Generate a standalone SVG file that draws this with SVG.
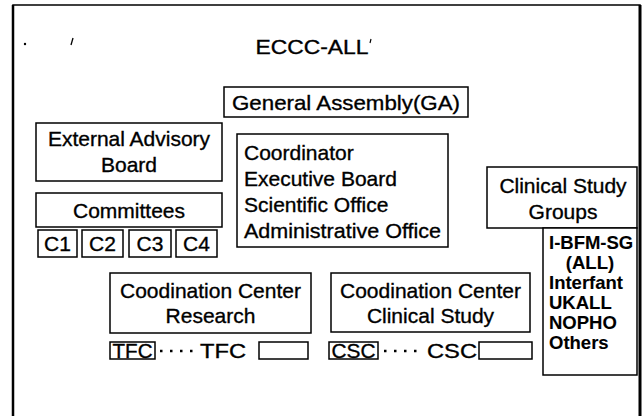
<svg xmlns="http://www.w3.org/2000/svg" width="644" height="416" viewBox="0 0 644 416">
  <style>
    .box { fill: #ffffff; stroke: #000000; stroke-width: 1.5; }
    .t { font-family: "Liberation Sans", Arial, Helvetica, sans-serif; font-size: 21px; fill: #000000; stroke: #000000; stroke-width: 0.35; }
    .c { text-anchor: middle; }
    .b { font-weight: bold; font-size: 18.5px; stroke-width: 0.1; }
    .dots { stroke: #000000; stroke-width: 2.5; stroke-dasharray: 2.5 7.5; fill: none; }
  </style>
  <rect width="644" height="416" fill="#ffffff"/>

  <!-- outer frame (open at the bottom) -->
  <g id="frame">
    <path d="M13,416 V5 H640 V416" fill="none" stroke="#000" stroke-width="1.5"/>
    <line x1="13" y1="5" x2="13" y2="416" stroke="#000" stroke-width="2.5"/>
    <line x1="640" y1="5" x2="640" y2="416" stroke="#000" stroke-width="3"/>
    <circle cx="25" cy="44" r="1.2" fill="#000"/>
    <line x1="71" y1="45" x2="73" y2="38" stroke="#000" stroke-width="1.3"/>
  </g>

  <g id="title">
    <text class="t c" x="312" y="54" font-size="20" textLength="113" lengthAdjust="spacingAndGlyphs">ECCC-ALL</text>
    <line x1="371" y1="39" x2="370" y2="43" stroke="#000" stroke-width="1.2"/>
  </g>

  <g id="general-assembly">
    <rect class="box" x="224" y="87" width="244" height="30"/>
    <text class="t c" x="346" y="110" textLength="228" lengthAdjust="spacingAndGlyphs">General Assembly(GA)</text>
  </g>

  <g id="external-advisory-board">
    <rect class="box" x="36" y="123" width="186" height="58"/>
    <text class="t c" x="129" y="146">External Advisory</text>
    <text class="t c" x="129" y="172">Board</text>
  </g>

  <g id="coordinator">
    <rect class="box" x="237" y="134" width="211" height="113"/>
    <text class="t" x="244" y="160">Coordinator</text>
    <text class="t" x="244" y="186">Executive Board</text>
    <text class="t" x="244" y="212">Scientific Office</text>
    <text class="t" x="244" y="238" textLength="197" lengthAdjust="spacingAndGlyphs">Administrative Office</text>
  </g>

  <g id="committees">
    <rect class="box" x="36" y="193" width="186" height="34"/>
    <text class="t c" x="129" y="218">Committees</text>
  </g>

  <g id="c1">
    <rect class="box" x="38" y="230" width="39" height="27"/>
    <text class="t c" x="57.5" y="251">C1</text>
  </g>
  <g id="c2">
    <rect class="box" x="82" y="230" width="41" height="27"/>
    <text class="t c" x="102.5" y="251">C2</text>
  </g>
  <g id="c3">
    <rect class="box" x="129" y="230" width="42" height="27"/>
    <text class="t c" x="150" y="251">C3</text>
  </g>
  <g id="c4">
    <rect class="box" x="176" y="230" width="41" height="27"/>
    <text class="t c" x="196.5" y="251">C4</text>
  </g>

  <g id="clinical-study-groups">
    <rect class="box" x="487" y="167" width="150" height="61"/>
    <text class="t c" x="563" y="193">Clinical Study</text>
    <text class="t c" x="563" y="219">Groups</text>
  </g>

  <g id="study-group-list">
    <rect class="box" x="543" y="228" width="94" height="147"/>
    <text class="t b" x="549" y="249">I-BFM-SG</text>
    <text class="t b c" x="590" y="269">(ALL)</text>
    <text class="t b" x="549" y="289">Interfant</text>
    <text class="t b" x="549" y="309">UKALL</text>
    <text class="t b" x="549" y="329">NOPHO</text>
    <text class="t b" x="549" y="349">Others</text>
  </g>

  <g id="coordination-center-research">
    <rect class="box" x="110" y="273" width="201" height="60"/>
    <text class="t c" x="210.5" y="298">Coodination Center</text>
    <text class="t c" x="210.5" y="323">Research</text>
  </g>

  <g id="coordination-center-clinical">
    <rect class="box" x="331" y="273" width="199" height="59"/>
    <text class="t c" x="430.5" y="298">Coodination Center</text>
    <text class="t c" x="430.5" y="323">Clinical Study</text>
  </g>

  <g id="tfc-first">
    <rect class="box" x="110" y="342" width="45" height="17"/>
    <text class="t c" x="132.5" y="358" textLength="40" lengthAdjust="spacingAndGlyphs">TFC</text>
  </g>
  <g id="tfc-last">
    <text class="t" x="200" y="358" textLength="46" lengthAdjust="spacingAndGlyphs">TFC</text>
    <rect class="box" x="259" y="342" width="49" height="17"/>
  </g>

  <g id="csc-first">
    <rect class="box" x="329" y="342" width="49" height="17"/>
    <text class="t c" x="353.5" y="358" textLength="44" lengthAdjust="spacingAndGlyphs">CSC</text>
  </g>
  <g id="csc-last">
    <text class="t" x="427" y="358" textLength="50" lengthAdjust="spacingAndGlyphs">CSC</text>
    <rect class="box" x="479" y="342" width="53" height="17"/>
  </g>

  <!-- dotted links between the first and last task-force / study centre -->
  <g id="connectors">
    <line class="dots" x1="160" y1="351" x2="198" y2="351"/>
    <line class="dots" x1="384" y1="351" x2="424" y2="351"/>
  </g>
</svg>
